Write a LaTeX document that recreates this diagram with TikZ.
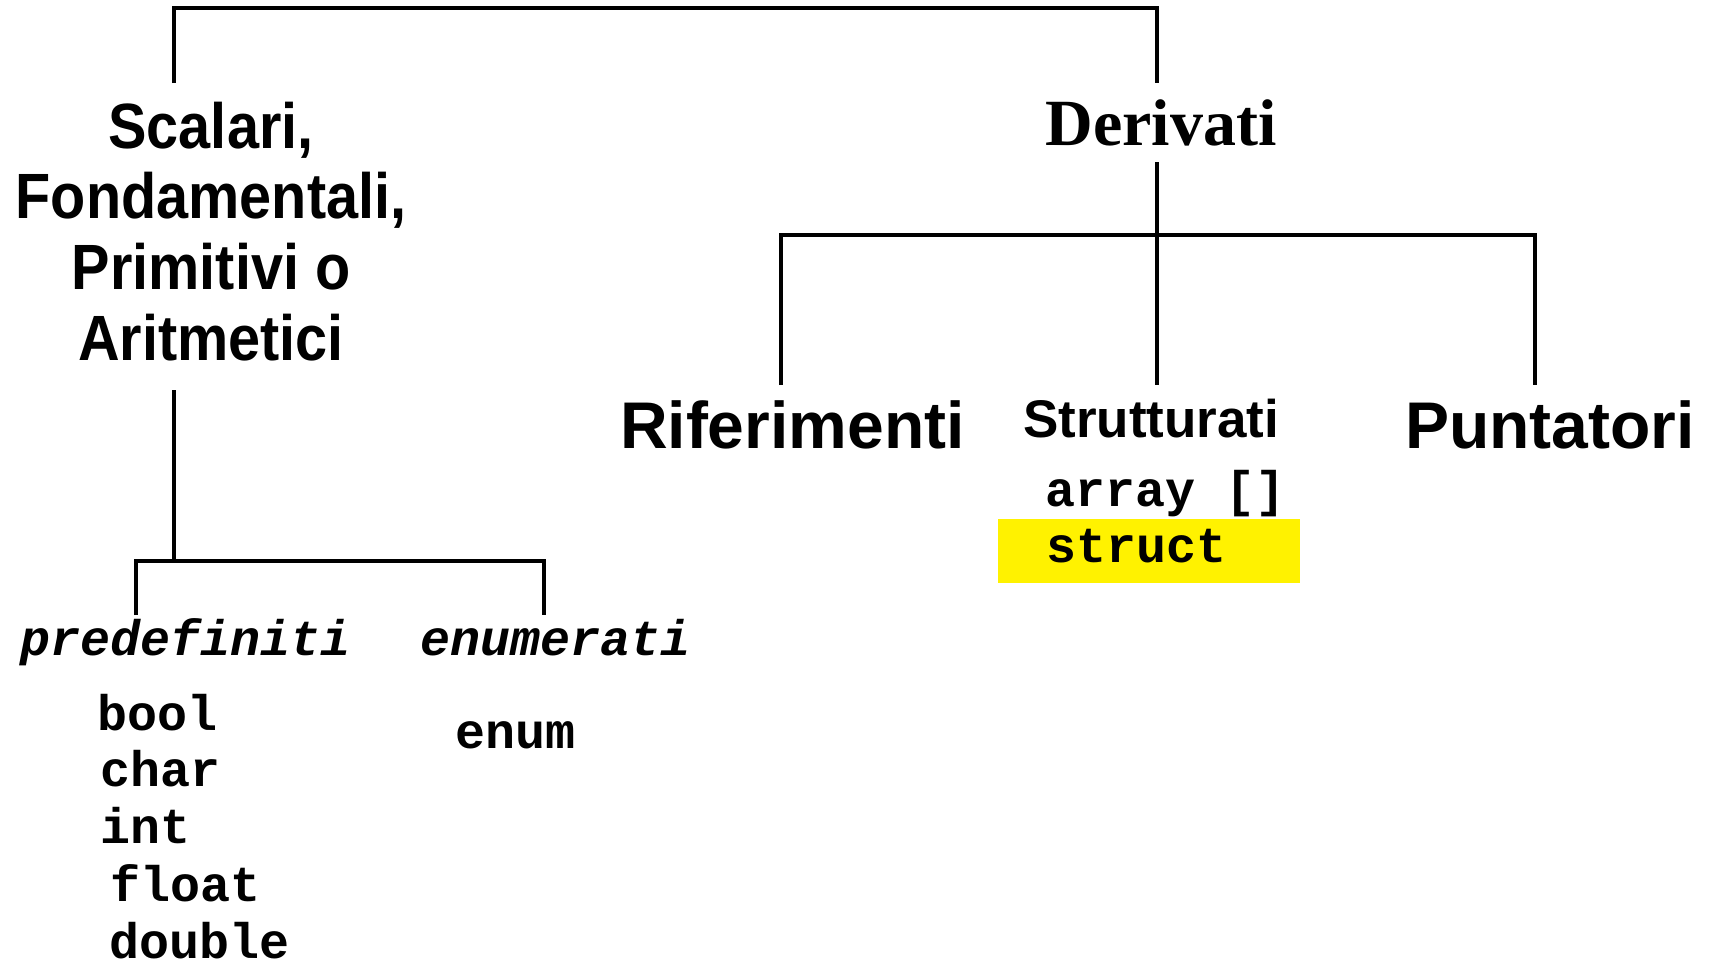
\documentclass[tikz,border=0pt]{standalone}
\usepackage{fontspec}
\newfontfamily\condsans[FakeStretch=0.9]{Liberation Sans}
\newfontfamily\arialf{Liberation Sans}
\newfontfamily\timesf{Liberation Serif}
\newfontfamily\courf{Liberation Mono}
\begin{document}
\begin{tikzpicture}[x=1pt,y=-1pt,
  conn/.style={line width=3.4pt, line join=miter, draw=black},
  txt/.style={inner sep=0pt, outer sep=0pt, anchor=base west},
  bigsans/.style={font=\arialf\bfseries\fontsize{66}{70}\selectfont},
  midsans/.style={font=\arialf\bfseries\fontsize{53}{60}\selectfont},
  monotxt/.style={font=\courf\bfseries\fontsize{50}{57}\selectfont},
  monoit/.style={font=\courf\bfseries\itshape\fontsize{50}{57}\selectfont}]
\useasboundingbox (0,0) rectangle (1710,964);

% text nodes
\node[inner sep=0pt, anchor=base, align=center,
      font=\condsans\bfseries\fontsize{64}{70.6}\selectfont] (scal) at (211,360)
      {Scalari,\\Fondamentali,\\Primitivi o\\Aritmetici};
\node[inner sep=0pt, anchor=base, font=\timesf\bfseries\fontsize{66}{70}\selectfont] (der) at (1161,145) {Derivati};
\node[txt, bigsans] (rif) at (620,448) {Riferimenti};
\node[txt, midsans] (str) at (1023,437) {Strutturati};
\node[txt, bigsans] (pun) at (1405,448) {Puntatori};

\node[fill=yellow, inner sep=0pt, minimum width=302pt, minimum height=64pt] (hl) at (1149,551) {};
\node[txt, monotxt] (arr) at (1045,506) {array []};
\node[txt, monotxt] (stc) at (1046,562) {struct};

\node[txt, monoit] (pre) at (20,655) {predefiniti};
\node[txt, monoit] (enu) at (420,655) {enumerati};
\node[txt, monotxt] (bool) at (97,730) {bool};
\node[txt, monotxt] (char) at (100,786) {char};
\node[txt, monotxt] (int) at (100,843) {int};
\node[txt, monotxt] (flt) at (110,901) {float};
\node[txt, monotxt] (dbl) at (109,958) {double};
\node[txt, monotxt] (enm) at (455,748) {enum};

% junction coordinates
\coordinate (scTop) at (174,83);
\coordinate (topR) at (1157,8);
\coordinate (derTop) at (1157,83);
\coordinate (scBot) at (174,390);
\coordinate (scJ) at (174,561);
\coordinate (preTop) at (136,615);
\coordinate (subR) at (544,561);
\coordinate (enuTop) at (544,615);
\coordinate (derBot) at (1157,162);
\coordinate (strTop) at (1157,385);
\coordinate (rifTop) at (781,385);
\coordinate (barR) at (1535,235);
\coordinate (punTop) at (1535,385);

% connectors
\draw[conn] (scTop) |- (topR) -- (derTop);
\draw[conn] (scBot) -- (scJ);
\draw[conn] (preTop) |- (subR) -- (enuTop);
\draw[conn] (derBot) -- (strTop);
\draw[conn] (rifTop) |- (barR) -- (punTop);
\end{tikzpicture}
\end{document}
